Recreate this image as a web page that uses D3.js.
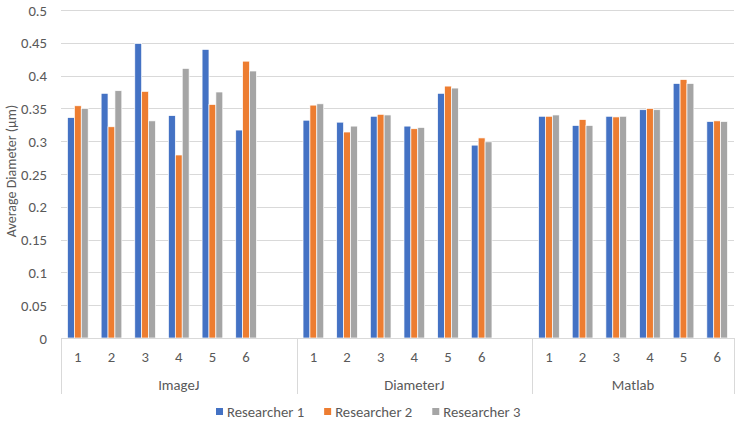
<!DOCTYPE html>
<html>
<head>
<meta charset="utf-8">
<script src="https://cdn.jsdelivr.net/npm/d3@7"></script>
<style>
  body { margin: 0; background: #fff; }
  text { font-family: Carlito, Calibri, Lato, "Liberation Sans", sans-serif; fill: #595959; }
</style>
</head>
<body>
<div id="chart"></div>
<script>
// category axis: sample number within each method, blank slot = spacer row
var groups = ["ImageJ", "DiameterJ", "Matlab"];
var groupSizes = [7, 7, 6];
var sampleLabels = ["1", "2", "3", "4", "5", "6", "",
                    "1", "2", "3", "4", "5", "6", "",
                    "1", "2", "3", "4", "5", "6"];
var series = ["Researcher 1", "Researcher 2", "Researcher 3"];
var colors = ["#4472C4", "#ED7D31", "#A5A5A5"];

var researcher1 = [0.336, 0.373, 0.449, 0.339, 0.440, 0.317, null,
                   0.332, 0.329, 0.338, 0.323, 0.373, 0.294, null,
                   0.338, 0.324, 0.338, 0.348, 0.388, 0.330];
var researcher2 = [0.354, 0.322, 0.376, 0.279, 0.356, 0.422, null,
                   0.355, 0.314, 0.341, 0.319, 0.384, 0.305, null,
                   0.338, 0.333, 0.337, 0.350, 0.394, 0.331];
var researcher3 = [0.350, 0.377, 0.331, 0.411, 0.375, 0.407, null,
                   0.357, 0.323, 0.340, 0.321, 0.381, 0.299, null,
                   0.340, 0.324, 0.338, 0.348, 0.388, 0.330];
var yTicks = [0, 0.05, 0.1, 0.15, 0.2, 0.25, 0.3, 0.35, 0.4, 0.45, 0.5];

var width = 739, height = 425;
var plotLeft = 61, plotRight = 734, plotTop = 10, plotBottom = 338;
var fontSize = "14.7px";

var svg = d3.select("#chart").append("svg")
    .attr("width", width)
    .attr("height", height);

var slots = d3.range(sampleLabels.length);
var x0 = d3.scaleBand().domain(slots).range([plotLeft, plotRight]);
var bw = x0.bandwidth();
var groupW = bw * 0.615;
var x1 = d3.scaleBand().domain(series).range([(bw - groupW) / 2, (bw + groupW) / 2]);
var y = d3.scaleLinear().domain([0, 0.5]).range([plotBottom, plotTop]);

// gridlines
svg.append("g").selectAll("line").data(yTicks.slice(1)).enter().append("line")
    .attr("x1", plotLeft).attr("x2", plotRight)
    .attr("y1", function(d) { return Math.round(y(d)) + 0.5; })
    .attr("y2", function(d) { return Math.round(y(d)) + 0.5; })
    .attr("stroke", "#d9d9d9").attr("stroke-width", 1);

var yAxis = d3.axisLeft(y).tickValues(yTicks).tickSize(0).tickPadding(14)
    .tickFormat(function(d) { return String(+d.toFixed(2)); });
var yA = svg.append("g").attr("transform", "translate(" + plotLeft + ",0)").call(yAxis);
yA.select(".domain").remove();
yA.selectAll("text").style("font-size", fontSize).attr("fill", "#595959").attr("dy", "0.35em");

// bars
var data = [researcher1, researcher2, researcher3];
data.forEach(function(vals, si) {
  svg.append("g").selectAll("rect")
    .data(vals.map(function(v, i) { return {i: i, v: v}; }).filter(function(d) { return d.v != null; }))
    .enter().append("rect")
    .attr("x", function(d) { return x0(d.i) + x1(series[si]); })
    .attr("width", x1.bandwidth())
    .attr("y", function(d) { return y(d.v); })
    .attr("height", function(d) { return y(0) - y(d.v); })
    .attr("fill", colors[si])
    .attr("stroke", "#fff").attr("stroke-width", 0.7);
});

// category axis
svg.append("line").attr("x1", plotLeft).attr("x2", plotRight)
    .attr("y1", plotBottom + 0.5).attr("y2", plotBottom + 0.5)
    .attr("stroke", "#d9d9d9");

svg.append("g").selectAll("text").data(slots).enter().append("text")
    .attr("x", function(i) { return x0(i) + bw / 2; })
    .attr("y", 357).attr("dy", "0.35em")
    .attr("text-anchor", "middle")
    .style("font-size", fontSize)
    .text(function(i) { return sampleLabels[i]; });

var start = 0;
var bounds = [0];
groupSizes.forEach(function(n) { start += n; bounds.push(start); });
var edgeX = function(k) { return k < slots.length ? x0(k) : plotRight; };

svg.append("g").selectAll("line").data(bounds).enter().append("line")
    .attr("x1", function(k) { return Math.round(edgeX(k)) + 0.5; })
    .attr("x2", function(k) { return Math.round(edgeX(k)) + 0.5; })
    .attr("y1", plotBottom).attr("y2", 394)
    .attr("stroke", "#d9d9d9");

svg.append("g").selectAll("text").data(groups).enter().append("text")
    .attr("x", function(d, i) { return (edgeX(bounds[i]) + edgeX(bounds[i + 1])) / 2; })
    .attr("y", 385).attr("dy", "0.35em")
    .attr("text-anchor", "middle")
    .style("font-size", fontSize)
    .text(function(d) { return d; });

// y title
svg.append("text")
    .attr("transform", "translate(11," + ((plotTop + plotBottom) / 2 - 3) + ") rotate(-90)")
    .attr("text-anchor", "middle")
    .attr("dy", "0.35em")
    .style("font-size", "14px")
    .text("Average Diameter (μm)");

// legend
var legend = svg.append("g");
var lx = 0;
series.forEach(function(s, i) {
  var item = legend.append("g").attr("transform", "translate(" + lx + ",0)");
  item.append("rect").attr("x", 0).attr("y", 408).attr("width", 7).attr("height", 7).attr("fill", colors[i]);
  var t = item.append("text").attr("x", 11).attr("y", 411.5).attr("dy", "0.35em")
      .style("font-size", fontSize).text(s);
  lx += 11 + t.node().getComputedTextLength() + 20;
});
var lw = lx - 20;
legend.attr("transform", "translate(" + Math.round(368 - lw / 2) + ",0)");
</script>
</body>
</html>
